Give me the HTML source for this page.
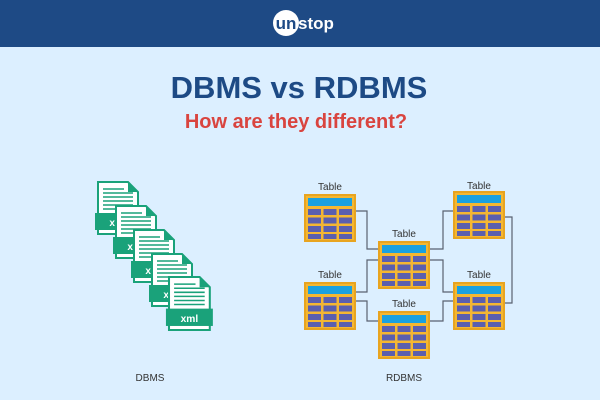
<!DOCTYPE html>
<html><head><style>
html,body{margin:0;padding:0;width:600px;height:400px;overflow:hidden;background:#dcefff}
</style></head><body>
<svg width="600" height="400" xmlns="http://www.w3.org/2000/svg" font-family="Liberation Sans, sans-serif">
<defs>
<g id="tbl">
<rect x="1" y="1" width="50" height="46" fill="#f5b731" stroke="#e8a420" stroke-width="2"/>
<rect x="4" y="4" width="44" height="8" fill="#1aa0e0"/>
<g fill="#5b5fae">
<rect x="4" y="15" width="13" height="6"/><rect x="19.5" y="15" width="13" height="6"/><rect x="35" y="15" width="13" height="6"/>
<rect x="4" y="23.5" width="13" height="6"/><rect x="19.5" y="23.5" width="13" height="6"/><rect x="35" y="23.5" width="13" height="6"/>
<rect x="4" y="32" width="13" height="6"/><rect x="19.5" y="32" width="13" height="6"/><rect x="35" y="32" width="13" height="6"/>
<rect x="4" y="40" width="13" height="5"/><rect x="19.5" y="40" width="13" height="5"/><rect x="35" y="40" width="13" height="5"/>
</g>
</g>
<g id="file">
<path d="M0,0 H30 L40,10 V52 H0 Z" fill="#fff" stroke="#1aa27a" stroke-width="2"/>
<path d="M30,0 V10 H40 Z" fill="#1aa27a"/>
<g stroke="#1aa27a" stroke-width="1.5">
<line x1="5" y1="7" x2="26" y2="7"/><line x1="5" y1="11" x2="35" y2="11"/><line x1="5" y1="15" x2="35" y2="15"/><line x1="5" y1="19" x2="35" y2="19"/><line x1="5" y1="23" x2="35" y2="23"/><line x1="5" y1="27" x2="35" y2="27"/>
</g>
<rect x="-3" y="31" width="46" height="17" fill="#1aa27a"/>
<text x="20" y="44" fill="#fff" font-size="10" font-weight="bold" text-anchor="middle">xml</text>
</g>
</defs>
<rect x="0" y="0" width="600" height="47" fill="#1e4a85"/>
<circle cx="286" cy="23" r="13" fill="#fff"/>
<text x="286" y="29" font-size="17" font-weight="bold" fill="#1e4a85" text-anchor="middle">un</text>
<text x="298" y="29" font-size="17" font-weight="bold" fill="#fff">stop</text>
<text x="299" y="98" font-size="31" font-weight="bold" fill="#1d4a85" text-anchor="middle">DBMS vs RDBMS</text>
<text x="296" y="128" font-size="20" font-weight="bold" fill="#d9443f" text-anchor="middle">How are they different?</text>

<use href="#file" transform="translate(98,182)"/>
<use href="#file" transform="translate(116,206)"/>
<use href="#file" transform="translate(134,230)"/>
<use href="#file" transform="translate(152,254)"/>
<use href="#file" transform="translate(169,277) scale(1.02)"/>

<g fill="none" stroke="#5a6270" stroke-width="1.2">
<polyline points="355,211 367,211 367,249 378,249"/>
<polyline points="430,249 443,249 443,211 453,211"/>
<polyline points="504,217 512,217 512,303 504,303"/>
<polyline points="378,260 367,260 367,292 355,292"/>
<polyline points="430,260 443,260 443,292 453,292"/>
<polyline points="355,301 367,301 367,321 378,321"/>
<polyline points="430,321 443,321 443,301 453,301"/>
</g>
<use href="#tbl" transform="translate(304,194)"/>
<use href="#tbl" transform="translate(378,241)"/>
<use href="#tbl" transform="translate(453,191)"/>
<use href="#tbl" transform="translate(304,282)"/>
<use href="#tbl" transform="translate(378,311)"/>
<use href="#tbl" transform="translate(453,282)"/>
<g font-size="10" fill="#333" text-anchor="middle">
<text x="330" y="190">Table</text>
<text x="404" y="237">Table</text>
<text x="479" y="189">Table</text>
<text x="330" y="278">Table</text>
<text x="404" y="307">Table</text>
<text x="479" y="278">Table</text>
<text x="150" y="381">DBMS</text>
<text x="404" y="381">RDBMS</text>
</g>
</svg>
</body></html>
